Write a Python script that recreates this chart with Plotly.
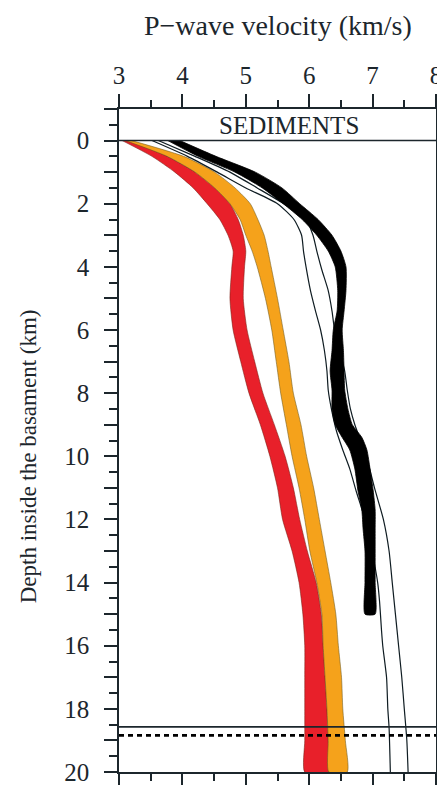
import plotly.graph_objects as go

# ---------------- data ----------------
depth_ro = [0, 0.5, 1, 1.5, 2, 2.5, 3, 3.5, 4, 5, 6, 7, 8, 9, 10, 11, 12, 13, 14, 15, 16, 17, 18, 19, 20]
red_left = [3.05, 3.52, 3.88, 4.17, 4.39, 4.59, 4.72, 4.80, 4.78, 4.75, 4.80, 4.92, 5.05, 5.23, 5.38,
            5.50, 5.58, 5.73, 5.84, 5.90, 5.93, 5.93, 5.93, 5.93, 5.93]
red_right = [3.14, 3.76, 4.20, 4.51, 4.75, 4.88, 4.96, 5.00, 4.98, 4.96, 5.02, 5.14, 5.27, 5.45, 5.62,
             5.75, 5.85, 5.97, 6.11, 6.19, 6.22, 6.25, 6.28, 6.30, 6.31]
orange_left = [3.10, 3.76, 4.20, 4.51, 4.75, 4.91, 5.00, 5.10, 5.18, 5.31, 5.41, 5.48, 5.55, 5.64, 5.73,
               5.84, 5.93, 6.01, 6.12, 6.20, 6.22, 6.25, 6.28, 6.30, 6.31]
orange_right = [3.20, 4.02, 4.51, 4.83, 5.07, 5.19, 5.29, 5.35, 5.40, 5.50, 5.59, 5.68, 5.75, 5.87, 5.96,
                6.07, 6.16, 6.25, 6.34, 6.42, 6.46, 6.51, 6.53, 6.57, 6.60]

depth_black = [0, 0.5, 1, 1.5, 2, 2.5, 3, 3.5, 4, 4.75, 5.4, 6, 6.65, 7.3, 7.9, 8.5, 9, 9.4, 9.8,
               10.4, 11.1, 11.7, 12.3, 13, 14, 15]
black_left = [3.77, 4.25, 4.83, 5.26, 5.59, 5.89, 6.12, 6.30, 6.41, 6.45, 6.44, 6.38, 6.36, 6.33, 6.36,
              6.36, 6.41, 6.52, 6.64, 6.72, 6.77, 6.83, 6.85, 6.88, 6.88, 6.88]
black_right = [3.96, 4.53, 5.15, 5.57, 5.85, 6.14, 6.36, 6.50, 6.58, 6.58, 6.55, 6.52, 6.54, 6.55, 6.56,
               6.61, 6.68, 6.83, 6.91, 6.96, 7.01, 7.04, 7.04, 7.04, 7.04, 7.04]

depth_thin_a = [0, 0.5, 1, 1.5, 2, 2.5, 3, 3.5, 4, 4.75, 5.4, 6, 6.65, 7.3, 7.9, 8.5, 9.2, 9.8, 10.4,
                11.1, 12, 13, 14, 14.6, 15.5, 16, 17, 18, 18.6, 20]
thin_a = [3.52, 4.08, 4.55, 5.00, 5.50, 5.76, 5.88, 5.91, 5.95, 6.02, 6.10, 6.18, 6.24, 6.28, 6.30, 6.35,
          6.43, 6.53, 6.64, 6.74, 6.88, 6.99, 7.08, 7.11, 7.14, 7.16, 7.22, 7.24, 7.26, 7.28]
depth_thin_b = [0, 0.5, 1, 1.5, 2, 2.5, 3, 3.5, 4.1, 4.75, 5.4, 6, 6.65, 7.3, 7.9, 8.5, 9, 10, 11, 12,
                13, 14, 15, 16, 17, 18, 19, 20]
thin_b = [3.62, 4.20, 4.75, 5.18, 5.60, 5.95, 6.06, 6.12, 6.20, 6.30, 6.36, 6.40, 6.48, 6.56, 6.60, 6.65,
          6.72, 6.90, 7.03, 7.17, 7.26, 7.31, 7.36, 7.41, 7.46, 7.50, 7.54, 7.56]

x_ticks = [3, 4, 5, 6, 7, 8]
y_ticks = list(range(-1, 21))
y_labels = [str(v) if (v >= 0 and v % 2 == 0) else "" for v in y_ticks]
basement_top_line = 18.57
basement_dashed_line = 18.84

x_title = "P\u2212wave velocity (km/s)"
y_title = "Depth inside the basament (km)"
layer_label = "SEDIMENTS"

# ---------------- figure ----------------
FONT = "Liberation Serif, Times New Roman, serif"
INK = "#1c262c"
RED = "#e8202a"
ORANGE = "#f5a21b"

fig = go.Figure()


def band(left, right, depth, fill, edge, width):
    fig.add_trace(go.Scatter(
        x=list(left) + list(right)[::-1],
        y=list(depth) + list(depth)[::-1],
        mode="lines", fill="toself", fillcolor=fill,
        line=dict(color=edge, width=width, shape="spline", smoothing=0.6),
        hoverinfo="skip", showlegend=False))


band(red_left, red_right, depth_ro, RED, "rgba(120,30,20,0.7)", 0.8)
band(orange_left, orange_right, depth_ro, ORANGE, "rgba(110,90,30,0.7)", 0.8)

for xs, ds in ((thin_a, depth_thin_a), (thin_b, depth_thin_b)):
    fig.add_trace(go.Scatter(x=xs, y=ds, mode="lines",
                             line=dict(color="#0f1c22", width=1.2, shape="spline", smoothing=0.6),
                             hoverinfo="skip", showlegend=False))

band(black_left, black_right, depth_black, "#000000", "#000000", 0.8)

# horizontal reference lines
fig.add_shape(type="line", xref="paper", yref="y", x0=0, x1=1, y0=0, y1=0,
              line=dict(color=INK, width=1.5), layer="above")
fig.add_shape(type="line", xref="paper", yref="y", x0=0, x1=1,
              y0=basement_top_line, y1=basement_top_line,
              line=dict(color=INK, width=1.6), layer="above")
fig.add_shape(type="line", xref="paper", yref="y", x0=0, x1=1,
              y0=basement_dashed_line, y1=basement_dashed_line,
              line=dict(color="#000000", width=2.6, dash="5px,4px"), layer="above")

# plot area in window pixels: x 119..436, y 109..772 (page body adds an 8px offset)
PH = 663.0
PW = 317.0
fig.add_annotation(x=5.68, y=-0.47, xref="x", yref="y", text=layer_label, showarrow=False,
                   font=dict(family=FONT, size=25, color=INK), xanchor="center", yanchor="middle")
fig.add_annotation(x=0.5, y=(772 - 25) / PH, xref="paper", yref="paper", text=x_title,
                   showarrow=False, font=dict(family=FONT, size=28, color=INK),
                   xanchor="center", yanchor="middle")
fig.add_annotation(x=(28 - 119) / PW, y=10, xref="paper", yref="y", text=y_title,
                   showarrow=False, textangle=-90, font=dict(family=FONT, size=23, color=INK),
                   xanchor="center", yanchor="middle")

axis_common = dict(showline=True, linecolor=INK, linewidth=1.5, mirror="ticks",
                   ticks="outside", tickcolor=INK, tickwidth=1.5, ticklen=13,
                   showgrid=False, zeroline=False, ticklabeloverflow="allow",
                   tickfont=dict(family=FONT, size=25, color=INK))

fig.update_xaxes(range=[3, 8], side="top", tickmode="array", tickvals=x_ticks,
                 ticktext=[str(v) for v in x_ticks], ticklabelstandoff=0,
                 minor=dict(dtick=0.5, tick0=3, ticklen=7, tickwidth=1.5, tickcolor=INK,
                            ticks="outside", showgrid=False),
                 **axis_common)
fig.update_yaxes(range=[20, -1], tickmode="array", tickvals=y_ticks, ticktext=y_labels,
                 ticklabelstandoff=10,
                 minor=dict(dtick=0.5, tick0=0, ticklen=8, tickwidth=1.5, tickcolor=INK,
                            ticks="outside", showgrid=False),
                 **axis_common)

fig.update_layout(width=437, height=777,
                  margin=dict(l=111, r=9, t=101, b=13, autoexpand=False),
                  paper_bgcolor="white", plot_bgcolor="white", showlegend=False)

fig.write_html("out.html")
